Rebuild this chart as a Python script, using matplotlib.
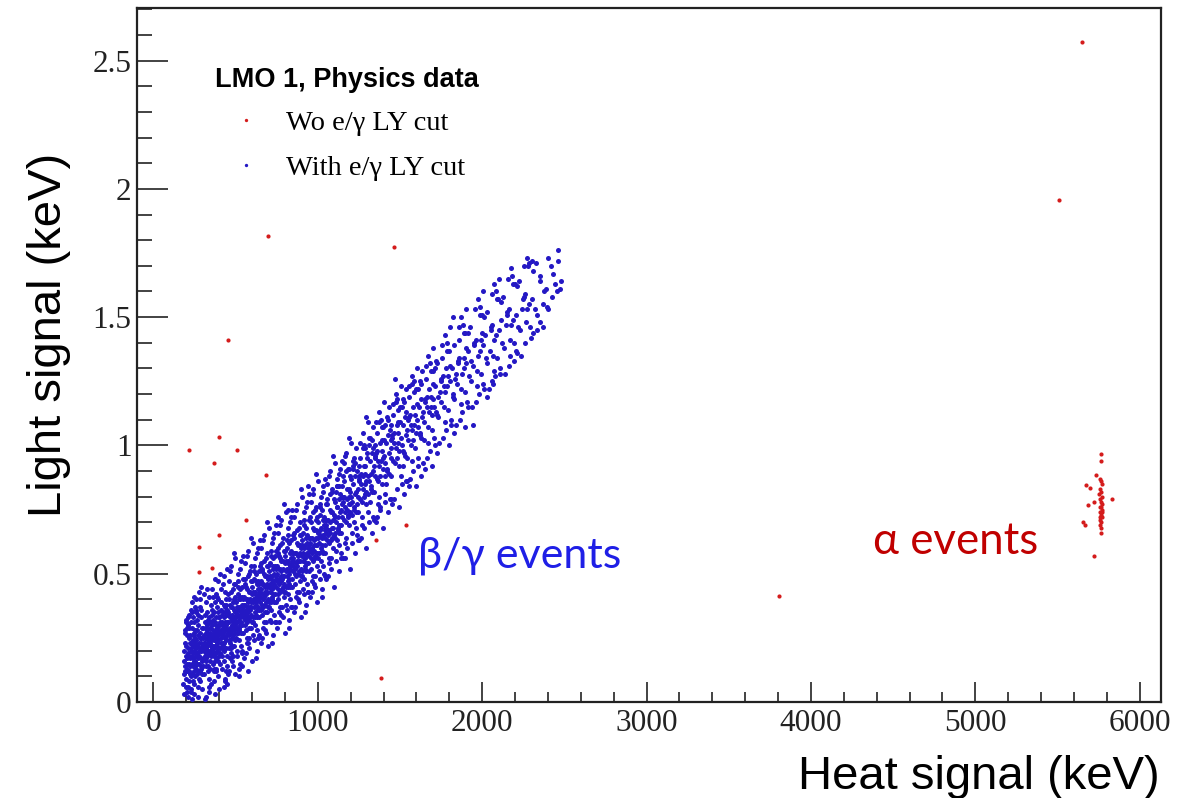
import numpy as np
import matplotlib
matplotlib.use("Agg")
import matplotlib.pyplot as plt
from matplotlib.lines import Line2D
from matplotlib.ticker import MultipleLocator, FuncFormatter

# beta/gamma band: events kept by the e/gamma light-yield cut (heat keV, light keV)
beta_gamma_events = [
    # 180 - 300 keV
    (184,.11),(231,.05),(267,.22),(205,.17),(292,.14),(213,.02),(248,.31),(189,.20),(276,.09),(222,.26),
    (259,.13),(197,.06),(284,.27),(239,.19),(208,.33),(271,.17),(226,.10),(195,.14),(299,.21),(243,.24),
    (216,.08),(262,.36),(187,.03),(253,.16),(233,.29),(281,.12),(201,.22),(274,.30),(219,.15),(246,.07),
    (290,.25),(210,.19),(237,.01),(265,.19),(193,.27),(228,.20),(287,.33),(256,.10),(203,.12),(241,.22),
    (279,.18),(214,.25),(269,.06),(186,.16),(251,.28),(296,.11),(224,.14),(261,.24),(199,.09),(235,.35),
    (283,.21),(211,.30),(244,.12),(272,.26),(191,.23),(257,.19),(229,.04),(294,.29),(206,.13),(266,.15),
    (238,.26),(218,.18),(277,.23),(250,.03),(198,.31),(289,.17),(232,.15),(263,.32),(212,.06),(247,.20),
    (285,.08),(221,.23),(255,.25),(182,.07),(270,.12),(236,.11),(204,.26),(292,.36),(242,.17),(226,.31),
    (278,.15),(196,.18),(258,.21),(216,.12),(287,.20),(252,.14),(230,.23),(268,.28),(209,.21),(282,.25),
    (240,.08),(223,.17),(297,.16),(261,.18),(194,.12),(245,.27),(275,.20),(234,.18),(202,.04),(264,.11),
    (217,.29),(254,.23),(288,.13),(227,.21),(249,.16),(273,.34),(207,.15),(238,.14),(291,.23),(220,.11),
    # 300 - 400 keV
    (304,.22),(356,.30),(331,.14),(387,.25),(312,.31),(369,.18),(342,.27),(398,.33),(321,.19),(375,.22),
    (308,.11),(351,.24),(393,.16),(327,.35),(362,.28),(339,.09),(384,.37),(316,.25),(371,.13),(347,.20),
    (302,.29),(390,.27),(334,.23),(358,.34),(323,.17),(379,.30),(310,.20),(366,.24),(344,.16),(396,.21),
    (329,.28),(353,.07),(381,.19),(318,.14),(373,.39),(337,.31),(359,.20),(306,.17),(389,.29),(348,.25),
    (325,.22),(367,.12),(394,.24),(314,.34),(341,.19),(377,.26),(332,.12),(386,.20),(355,.36),(320,.27),
    (364,.22),(303,.14),(399,.30),(345,.29),(328,.18),(372,.31),(313,.23),(383,.13),(350,.22),(336,.26),
    (392,.35),(322,.21),(361,.15),(307,.26),(376,.24),(340,.33),(397,.18),(330,.24),(368,.27),(317,.16),
    (385,.23),(352,.18),(326,.30),(363,.32),(309,.23),(380,.17),(343,.23),(391,.26),(335,.20),(357,.26),
    (319,.29),(370,.21),(338,.04),(395,.40),(311,.18),(378,.28),(346,.13),(324,.25),(365,.19),(388,.22),
    (333,.32),(354,.21),(315,.21),(374,.16),(349,.31),(301,.25),(382,.33),(360,.25),(328,.27),(366,.35),
    # 400 - 500 keV
    (404,.27),(452,.35),(431,.20),(487,.31),(412,.36),(469,.24),(443,.30),(498,.41),(421,.23),(475,.28),
    (408,.15),(451,.31),(493,.22),(427,.38),(462,.34),(439,.12),(484,.44),(416,.30),(471,.19),(447,.26),
    (402,.33),(490,.33),(434,.28),(458,.40),(423,.22),(479,.37),(410,.25),(466,.29),(444,.21),(496,.27),
    (429,.33),(453,.11),(481,.25),(418,.18),(473,.43),(437,.35),(459,.26),(406,.21),(489,.36),(448,.31),
    (425,.27),(467,.17),(494,.30),(414,.39),(441,.24),(477,.32),(432,.16),(486,.26),(455,.42),(420,.31),
    (464,.27),(403,.19),(499,.35),(445,.34),(428,.23),(472,.37),(413,.28),(483,.18),(450,.28),(436,.31),
    (492,.40),(422,.26),(461,.21),(407,.31),(476,.30),(440,.38),(497,.24),(430,.29),(468,.33),(417,.21),
    (485,.29),(457,.24),(426,.35),(463,.38),(409,.28),(480,.22),(442,.29),(491,.32),(435,.25),(456,.31),
    (419,.34),(470,.27),(438,.08),(495,.46),(411,.23),(478,.34),(446,.18),(424,.30),(465,.23),(488,.28),
    (433,.37),(454,.27),(415,.26),(474,.21),(449,.36),(401,.30),(482,.39),(430,.06),(377,.03),(450,.07),
    # 500 - 600 keV
    (504,.33),(553,.41),(531,.27),(587,.37),(512,.42),(569,.31),(542,.36),(598,.47),(521,.29),(575,.35),
    (508,.20),(551,.38),(593,.29),(527,.44),(562,.40),(539,.19),(584,.50),(516,.36),(571,.25),(547,.33),
    (502,.39),(590,.40),(534,.34),(558,.46),(523,.28),(579,.43),(510,.31),(566,.36),(544,.27),(596,.34),
    (529,.40),(553,.17),(581,.32),(518,.24),(573,.49),(537,.41),(559,.32),(506,.27),(589,.43),(548,.37),
    (525,.33),(567,.23),(594,.37),(514,.45),(541,.30),(577,.39),(532,.22),(586,.33),(555,.48),(520,.37),
    (564,.34),(503,.25),(599,.42),(545,.40),(528,.30),(572,.44),(513,.34),(583,.25),(550,.35),(536,.38),
    (592,.47),(522,.32),(561,.28),(507,.37),(576,.37),(540,.45),(597,.31),(530,.35),(568,.40),(517,.27),
    (585,.36),(557,.30),(526,.41),(563,.45),(509,.34),(580,.29),(543,.35),(591,.39),(535,.31),(556,.38),
    (519,.40),(570,.33),(538,.14),(595,.53),(511,.29),(578,.12),(520,.13),
    # 600 - 700 keV
    (604,.39),(652,.47),(631,.33),(687,.43),(612,.48),(669,.37),(643,.42),(698,.53),(621,.35),(675,.41),
    (608,.26),(651,.44),(693,.35),(627,.50),(662,.46),(639,.25),(684,.56),(616,.42),(671,.31),(647,.39),
    (602,.45),(690,.46),(634,.40),(658,.52),(623,.34),(679,.49),(610,.37),(666,.42),(644,.33),(696,.40),
    (629,.46),(653,.23),(681,.38),(618,.30),(673,.55),(637,.47),(659,.38),(606,.33),(689,.49),(648,.43),
    (625,.39),(667,.29),(694,.43),(614,.51),(641,.36),(677,.45),(632,.28),(686,.39),(655,.54),(620,.43),
    (664,.40),(603,.31),(699,.48),(645,.46),(628,.36),(672,.50),(613,.40),(683,.31),(650,.41),(636,.44),
    (692,.53),(622,.38),(661,.34),(607,.43),(676,.43),(640,.51),(697,.37),(630,.41),(668,.46),(617,.33),
    (685,.42),(657,.36),(626,.47),(663,.51),(609,.40),(680,.35),(642,.41),(691,.45),(635,.37),(656,.44),
    # 700 - 800 keV
    (704,.45),(752,.53),(731,.39),(787,.49),(712,.54),(769,.43),(743,.48),(798,.59),(721,.41),(775,.47),
    (708,.32),(751,.50),(793,.41),(727,.56),(762,.52),(739,.31),(784,.62),(716,.48),(771,.37),(747,.45),
    (702,.51),(790,.52),(734,.46),(758,.58),(723,.40),(779,.55),(710,.43),(766,.48),(744,.39),(796,.46),
    (729,.52),(753,.29),(781,.44),(718,.36),(773,.61),(737,.53),(759,.44),(706,.39),(789,.55),(748,.49),
    (725,.45),(767,.35),(794,.49),(714,.57),(741,.42),(777,.51),(732,.34),(786,.45),(755,.60),(720,.49),
    (764,.46),(703,.37),(799,.54),(745,.52),(728,.42),(772,.56),(713,.46),(783,.37),(750,.47),(736,.50),
    (792,.59),(722,.44),(761,.40),(707,.49),(776,.49),(740,.57),(797,.43),(730,.47),(768,.52),(717,.39),
    (785,.48),(757,.42),(726,.53),(763,.57),(709,.46),(760,.72),
    # 800 - 900 keV
    (804,.51),(852,.58),(831,.45),(887,.55),(812,.60),(869,.49),(843,.54),(898,.65),(821,.47),(875,.53),
    (808,.38),(851,.56),(893,.47),(827,.62),(862,.58),(839,.37),(884,.68),(816,.54),(871,.43),(847,.51),
    (802,.57),(890,.58),(834,.52),(858,.64),(823,.46),(879,.61),(810,.49),(866,.54),(844,.45),(896,.52),
    (829,.58),(853,.35),(881,.50),(818,.42),(873,.67),(837,.59),(859,.50),(806,.45),(889,.61),(848,.55),
    (825,.51),(867,.41),(894,.55),(814,.63),(841,.48),(877,.57),(832,.40),(886,.51),(855,.66),(820,.55),
    (864,.52),(803,.43),(899,.60),(845,.58),(828,.48),(872,.62),(813,.52),(883,.43),(850,.53),(836,.56),
    (892,.65),(822,.50),(861,.46),(807,.55),(876,.55),(840,.63),(897,.49),(830,.53),(868,.58),(817,.45),
    (820,.75),
    # 900 - 1000 keV
    (904,.57),(952,.64),(931,.51),(987,.61),(912,.66),(969,.55),(943,.60),(998,.72),(921,.53),(975,.59),
    (908,.44),(951,.62),(993,.53),(927,.68),(962,.64),(939,.43),(984,.75),(916,.60),(971,.49),(947,.57),
    (902,.63),(990,.64),(934,.58),(958,.70),(923,.52),(979,.67),(910,.55),(966,.60),(944,.51),(996,.58),
    (929,.64),(953,.41),(981,.56),(918,.48),(973,.74),(937,.65),(959,.56),(906,.51),(989,.67),(948,.61),
    (925,.57),(967,.47),(994,.61),(914,.69),(941,.54),(977,.63),(932,.46),(986,.57),(955,.72),(920,.61),
    (964,.58),(903,.49),(999,.66),(945,.64),(928,.54),(972,.68),(913,.58),(983,.49),(950,.59),(936,.62),
    (992,.71),(922,.56),(961,.52),(907,.61),(976,.61),(940,.84),
    # 1000 - 1100 keV
    (1004,.64),(1052,.71),(1031,.58),(1087,.68),(1012,.73),(1069,.62),(1043,.67),(1098,.79),(1021,.60),(1075,.66),
    (1008,.51),(1051,.69),(1093,.60),(1027,.75),(1062,.71),(1039,.50),(1084,.82),(1016,.67),(1071,.56),(1047,.64),
    (1002,.70),(1090,.71),(1034,.65),(1058,.77),(1023,.59),(1079,.74),(1010,.62),(1066,.67),(1044,.58),(1096,.65),
    (1029,.71),(1053,.48),(1081,.63),(1018,.55),(1073,.81),(1037,.72),(1059,.63),(1006,.58),(1089,.74),(1048,.68),
    (1025,.64),(1067,.54),(1094,.68),(1014,.76),(1041,.61),(1077,.70),(1032,.53),(1086,.64),(1055,.79),(1020,.68),
    (1064,.65),(1003,.56),(1099,.73),(1045,.71),(1028,.61),(1072,.75),(1013,.65),(1083,.56),(1050,.66),(1036,.69),
    # 1100 - 1200 keV
    (1104,.72),(1152,.80),(1131,.66),(1187,.77),(1112,.82),(1169,.70),(1143,.75),(1198,.88),(1121,.68),(1175,.75),
    (1108,.59),(1151,.78),(1193,.69),(1127,.84),(1162,.80),(1139,.58),(1184,.91),(1116,.76),(1171,.64),(1147,.72),
    (1102,.78),(1190,.80),(1134,.74),(1158,.86),(1123,.67),(1179,.83),(1110,.70),(1166,.76),(1144,.66),(1196,.74),
    (1129,.79),(1153,.56),(1181,.72),(1118,.63),(1173,.90),(1137,.81),(1159,.71),(1106,.66),(1189,.83),(1148,.77),
    (1125,.72),(1167,.62),(1194,.77),(1114,.84),(1141,.69),(1177,.79),(1132,.61),(1186,.73),(1155,.88),(1120,.76),
    (1164,.74),(1103,.64),(1199,.82),(1145,.80),(1128,.69),
    # 1200 - 1300 keV
    (1204,.80),(1252,.88),(1231,.74),(1287,.85),(1212,.91),(1269,.78),(1243,.83),(1298,.97),(1221,.76),(1275,.83),
    (1208,.66),(1251,.87),(1293,.77),(1227,.93),(1262,.89),(1239,.65),(1284,1.00),(1216,.85),(1271,.72),(1247,.80),
    (1202,.87),(1290,.89),(1234,.82),(1258,.95),(1223,.75),(1279,.92),(1210,.78),(1266,.85),(1244,.74),(1296,.82),
    (1229,.88),(1253,.63),(1281,.80),(1218,.70),(1273,.99),(1237,.90),(1259,.79),(1206,.73),(1289,.92),(1248,.86),
    (1225,.81),(1267,.69),(1294,.86),(1214,.94),(1241,.77),(1277,.88),(1232,.68),(1286,.81),
    # 1300 - 1400 keV
    (1304,.88),(1352,.97),(1331,.82),(1387,.94),(1312,1.00),(1369,.86),(1343,.92),(1398,1.07),(1321,.84),(1375,.92),
    (1308,.74),(1351,.96),(1393,.85),(1327,1.02),(1362,.98),(1339,.72),(1384,1.10),(1316,.94),(1371,.80),(1347,.88),
    (1302,.95),(1390,.98),(1334,.90),(1358,1.05),(1323,.83),(1379,1.01),(1310,.86),(1366,.94),(1344,.82),(1396,.91),
    (1329,.97),(1353,.70),(1381,.88),(1318,.78),(1373,1.09),(1337,.99),(1359,.87),(1306,.81),(1389,1.02),(1348,.95),
    (1325,.89),(1367,.77),(1394,.95),(1314,1.03),(1380,.75),
    # 1400 - 1500 keV
    (1404,.96),(1452,1.04),(1431,.89),(1487,1.01),(1412,1.08),(1469,.93),(1443,.99),(1498,1.15),(1421,.91),(1475,.99),
    (1408,.81),(1451,1.03),(1493,.92),(1427,1.10),(1462,1.05),(1439,.79),(1484,1.18),(1416,1.01),(1471,1.26),(1447,.95),
    (1402,1.02),(1490,1.05),(1434,.97),(1458,1.12),(1423,.90),(1479,1.08),(1410,.93),(1466,1.01),(1444,.88),(1496,.98),
    (1429,1.04),(1453,.77),(1481,.95),(1418,.85),(1473,1.17),(1437,1.06),(1459,.94),(1406,.88),(1489,1.09),(1448,1.02),
    # 1500 - 1600 keV
    (1504,1.03),(1552,1.11),(1531,.96),(1587,1.08),(1512,1.15),(1569,1.00),(1543,1.06),(1598,1.22),(1521,.98),(1575,1.06),
    (1508,.88),(1551,1.10),(1593,.99),(1527,1.17),(1562,1.12),(1539,.86),(1584,1.25),(1516,1.08),(1571,.94),(1547,1.02),
    (1502,1.09),(1590,1.12),(1534,1.04),(1558,1.19),(1523,.97),(1579,1.15),(1510,1.00),(1566,1.08),(1544,.95),(1596,1.05),
    (1529,1.11),(1553,.84),(1581,1.02),(1518,.92),(1573,1.24),(1537,1.13),
    # 1600 - 1700 keV
    (1604,1.10),(1652,1.18),(1631,1.03),(1687,1.15),(1612,1.22),(1669,1.07),(1643,1.13),(1698,1.29),(1621,1.05),(1675,1.13),
    (1608,.95),(1651,1.17),(1693,1.06),(1627,1.24),(1662,1.19),(1639,.93),(1684,1.32),(1616,1.15),(1671,1.01),(1647,1.09),
    (1602,1.16),(1690,1.19),(1634,1.11),(1658,1.26),(1623,1.04),(1679,1.22),(1610,1.07),(1666,1.15),(1644,1.02),(1696,1.12),
    (1629,1.18),(1653,.91),
    # 1700 - 1800 keV
    (1704,1.18),(1752,1.26),(1731,1.11),(1787,1.23),(1712,1.30),(1769,1.15),(1743,1.21),(1798,1.37),(1721,1.13),(1775,1.21),
    (1708,1.03),(1751,1.25),(1793,1.14),(1727,1.32),(1762,1.27),(1739,1.01),(1784,1.40),(1716,1.23),(1771,1.09),(1747,1.17),
    (1702,1.24),(1790,1.27),(1734,1.19),(1758,1.34),(1723,1.12),(1779,1.30),(1710,1.15),(1766,1.23),
    # 1800 - 1900 keV
    (1806,1.25),(1853,1.33),(1831,1.18),(1887,1.30),(1824,1.50),(1869,1.22),(1843,1.28),(1898,1.44),(1821,1.20),(1875,1.28),
    (1808,1.10),(1851,1.32),(1893,1.21),(1827,1.39),(1862,1.34),(1839,1.08),(1884,1.47),(1816,1.30),(1871,1.16),(1847,1.24),
    (1802,1.31),(1890,1.34),(1834,1.26),(1858,1.41),(1823,1.19),
    # 1900 - 2000 keV
    (1904,1.32),(1952,1.40),(1931,1.25),(1987,1.37),(1912,1.44),(1969,1.29),(1945,1.08),(1998,1.51),(1921,1.27),(1975,1.35),
    (1908,1.17),(1951,1.39),(1993,1.28),(1927,1.46),(1962,1.41),(1939,1.15),(1984,1.54),(1916,1.37),(1971,1.23),(1947,1.31),
    (1902,1.38),(1990,1.41),(1934,1.33),
    # 2000 - 2100 keV
    (2004,1.39),(2052,1.46),(2031,1.32),(2087,1.43),(2012,1.50),(2069,1.35),(2061,1.25),(2098,1.57),(2021,1.34),(2075,1.41),
    (2008,1.24),(2051,1.45),(2093,1.34),(2027,1.52),(2062,1.47),(2039,1.22),(2084,1.60),(2016,1.43),(2071,1.29),(2047,1.37),
    (2002,1.44),
    # 2100 - 2200 keV
    (2104,1.45),(2152,1.52),(2131,1.38),(2187,1.49),(2112,1.56),(2169,1.41),(2143,1.47),(2198,1.63),(2121,1.40),(2175,1.47),
    (2108,1.30),(2151,1.51),(2193,1.40),(2127,1.58),(2162,1.53),(2139,1.28),(2184,1.66),(2116,1.49),(2171,1.35),
    # 2200 - 2300 keV
    (2204,1.51),(2252,1.58),(2231,1.45),(2287,1.55),(2212,1.62),(2269,1.48),(2243,1.53),(2286,1.71),(2221,1.46),(2275,1.53),
    (2208,1.37),(2251,1.57),(2293,1.46),(2227,1.64),(2262,1.59),(2239,1.35),(2280,1.70),
    # 2300 - 2480 keV
    (2304,1.57),(2352,1.64),(2331,1.51),(2387,1.61),(2312,1.68),(2369,1.55),(2353,1.48),(2398,1.73),(2321,1.53),(2375,1.60),
    (2308,1.44),(2351,1.66),(2393,1.54),(2327,1.71),(2401,1.53),(2462,1.76),(2462,1.72),(2458,1.60),(2431,1.67),(2445,1.63),
    (2472,1.61),(2418,1.70),(2479,1.64),(2426,1.58),
]

# the wider edges of the same band
beta_gamma_edges = [
    (262,.40),(281,.37),(305,.42),(327,.44),(296,.05),(318,.02),(341,.41),(275,.43),(252,.37),(233,.39),
    (214,.34),(199,.32),(227,.36),(289,.45),(312,.01),(336,.06),(348,.38),(270,.02),(244,.41),(322,.39),
    (206,.29),(239,.33),(258,.35),(285,.40),(193,.28),
    (358,.44),(374,.48),(387,.41),(405,.50),(422,.46),(436,.43),(449,.52),(367,.08),(383,.12),(401,.05),
    (416,.13),(434,.09),(447,.14),(379,.42),(395,.47),(413,.44),(429,.49),(442,.40),(362,.41),(391,.10),
    (459,.47),(473,.53),(488,.46),(499,.56),(516,.50),(534,.55),(546,.48),(462,.12),(480,.16),(494,.11),
    (511,.18),(525,.15),(540,.20),(469,.51),(490,.58),(513,.47),(528,.52),(543,.57),(483,.14),(520,.10),
    (555,.54),(573,.59),(587,.51),(604,.62),(618,.56),(635,.60),(649,.53),(561,.19),(578,.23),(597,.16),
    (610,.24),(628,.20),(641,.26),(567,.57),(592,.64),(615,.53),(630,.58),(646,.63),(583,.21),(623,.17),
    (657,.60),(671,.65),(689,.58),(702,.68),(720,.62),(734,.66),(747,.59),(660,.25),(680,.28),(695,.22),
    (713,.31),(726,.26),(744,.31),(669,.63),(692,.70),(716,.59),(730,.64),(745,.69),(685,.27),(721,.23),
    (756,.66),(774,.71),(788,.64),(805,.74),(817,.68),(835,.72),(849,.65),(764,.31),(779,.34),(798,.27),
    (813,.36),(827,.32),(841,.37),(768,.69),(793,.77),(816,.65),(832,.70),(845,.75),(787,.33),(822,.29),
    (857,.72),(872,.77),(890,.70),(903,.80),(919,.74),(932,.78),(948,.71),(861,.37),(881,.40),(896,.33),
    (914,.42),(929,.38),(943,.43),(867,.75),(895,.83),(915,.71),(931,.76),(946,.81),(885,.39),(925,.35),
    (956,.78),(974,.83),(989,.76),(1003,.86),(1020,.80),(1033,.84),(1049,.77),(964,.43),(978,.46),(997,.39),
    (1012,.48),(1026,.44),(1042,.49),(968,.81),(992,.89),(1016,.77),(1030,.82),(1047,.87),(984,.45),(1023,.41),
    (1057,.85),(1072,.90),(1088,.83),(1104,.93),(1119,.87),(1134,.91),(1148,.84),(1063,.49),(1080,.52),(1096,.45),
    (1111,.55),(1127,.51),(1143,.56),(1067,.88),(1093,.96),(1115,.84),(1131,.89),(1146,.94),
    (1157,.93),(1173,.97),(1188,.91),(1204,1.01),(1219,.95),(1234,.99),(1248,.92),(1163,.56),(1180,.60),(1196,.52),
    (1211,.62),(1227,.58),(1243,.63),(1167,.96),(1193,1.03),(1215,.92),
    (1257,1.01),(1273,1.05),(1288,.99),(1304,1.09),(1319,1.03),(1334,1.07),(1348,1.00),(1263,.64),(1280,.68),(1296,.60),
    (1311,.70),(1327,.66),(1343,.71),(1293,1.11),
    (1357,1.09),(1373,1.13),(1388,1.07),(1404,1.17),(1419,1.11),(1434,1.15),(1448,1.08),(1363,.72),(1380,.76),(1396,.68),
    (1411,.78),(1427,.74),(1443,.79),
    (1457,1.16),(1473,1.20),(1488,1.14),(1504,1.23),(1519,1.18),(1534,1.22),(1463,.79),(1480,.83),(1496,.76),(1511,.85),
    (1527,.81),(1543,.86),
    (1557,1.23),(1573,1.27),(1588,1.21),(1604,1.30),(1619,1.25),(1634,1.29),(1563,.87),(1580,.90),(1596,.84),(1611,.92),
    (1627,.88),
    (1657,1.31),(1673,1.35),(1688,1.29),(1704,1.38),(1719,1.33),(1663,.95),(1680,.98),(1696,.92),(1711,1.00),(1727,.97),
    (1757,1.39),(1773,1.43),(1788,1.37),(1804,1.46),(1763,1.03),(1780,1.06),(1796,1.00),(1811,1.08),(1827,1.05),
    (1857,1.46),(1873,1.50),(1888,1.44),(1904,1.53),(1863,1.10),(1880,1.13),(1896,1.07),(1911,1.15),
    (1957,1.53),(1973,1.57),(1988,1.51),(2004,1.60),(1963,1.17),(1980,1.20),(2011,1.22),(2027,1.19),
    (2057,1.59),(2073,1.63),(2088,1.57),(2104,1.65),(2063,1.24),(2080,1.27),(2111,1.28),
    (2157,1.65),(2173,1.69),(2188,1.63),(2163,1.31),(2196,1.33),(2211,1.36),
    (2257,1.70),(2273,1.73),(2304,1.72),(2263,1.40),(2296,1.42),(2332,1.45),(2371,1.46),
]

# events outside the e/gamma band (no LY cut applied)
stray_events = [
    (5647, 2.574), (5508, 1.955), (699, 1.818), (1465, 1.772), (456, 1.41), (219, 0.981),
    (401, 1.032), (511, 0.981), (371, 0.931), (687, 0.884), (565, 0.709), (401, 0.650),
    (280, 0.604), (280, 0.506), (359, 0.522), (1538, 0.689), (1356, 0.631), (1386, 0.093),
    (3805, 0.413),
]

# alpha population near 5.7 MeV
alpha_events = [
    (5763, 0.966), (5763, 0.938), (5733, 0.884), (5672, 0.845), (5696, 0.833), (5684, 0.767),
    (5720, 0.779), (5830, 0.790), (5654, 0.701), (5666, 0.689), (5763, 0.658), (5720, 0.569),
    (5760, 0.87), (5768, 0.85), (5757, 0.83), (5765, 0.82), (5770, 0.80), (5759, 0.79),
    (5766, 0.78), (5762, 0.76), (5771, 0.75), (5756, 0.74), (5764, 0.73), (5769, 0.72),
    (5758, 0.71), (5767, 0.70), (5761, 0.69), (5772, 0.77), (5755, 0.81), (5763, 0.68),
    (5768, 0.74), (5760, 0.76), (5765, 0.86), (5757, 0.72),
]

RED = "#d41c1c"
BLUE = "#2418c4"

bg = np.array(beta_gamma_events + beta_gamma_edges).T
red = np.array(stray_events + alpha_events).T

fig = plt.figure(figsize=(11.92, 7.98), dpi=100)
ax = fig.add_axes([0.1149, 0.1203, 0.8591, 0.8697])

ax.scatter(red[0], red[1], s=9, color=RED, linewidths=0, zorder=2)
ax.scatter(bg[0], bg[1], s=13, color=BLUE, linewidths=0, zorder=3)

ax.set_xlim(-100, 6130)
ax.set_ylim(0, 2.705)

ax.xaxis.set_major_locator(MultipleLocator(1000))
ax.xaxis.set_minor_locator(MultipleLocator(200))
ax.yaxis.set_major_locator(MultipleLocator(0.5))
ax.yaxis.set_minor_locator(MultipleLocator(0.1))
ax.yaxis.set_major_formatter(FuncFormatter(lambda v, p: f"{v:g}"))

ax.tick_params(axis="both", which="both", direction="in", top=False, right=False,
               width=1.2, color="#222222", labelcolor="#222222")
ax.tick_params(axis="x", which="major", length=14.5, pad=5)
ax.tick_params(axis="x", which="minor", length=7.2)
ax.tick_params(axis="y", which="major", length=22, pad=4)
ax.tick_params(axis="y", which="minor", length=11)
for lab in ax.get_xticklabels() + ax.get_yticklabels():
    lab.set_fontfamily("Liberation Serif")
    lab.set_fontsize(22.5)

for sp in ax.spines.values():
    sp.set_linewidth(1.6)
    sp.set_color("#222222")

fig.text(0.041, 0.58, "Light signal (keV)", rotation=90, ha="center", va="center",
         fontsize=34, family="Liberation Sans")
fig.text(0.973, 0.011, "Heat signal (keV)", ha="right", va="baseline",
         fontsize=34, family="Liberation Sans")

ax.text(1611, 0.526, "β/γ events", color="#1f1fe6", fontsize=31, family="Lato")
ax.text(4377, 0.576, "α events", color="#c00000", fontsize=31.5, family="Lato")

handles = [
    Line2D([], [], ls="none", marker="o", markersize=2.4, markeredgewidth=0, color=RED),
    Line2D([], [], ls="none", marker="o", markersize=2.4, markeredgewidth=0, color=BLUE),
]
leg = ax.legend(handles, ["Wo e/γ LY cut", "With e/γ LY cut"],
                loc="upper left", bbox_to_anchor=(215 / 1192, 1 - 67 / 798),
                bbox_transform=fig.transFigure, frameon=False, borderpad=0,
                borderaxespad=0, numpoints=1, handlelength=2.2, handletextpad=0.28,
                labelspacing=0.7, alignment="left",
                title="LMO 1, Physics data",
                title_fontproperties={"family": "Liberation Sans", "weight": "bold", "size": 19.5},
                prop={"family": "Liberation Serif", "size": 20.5})
leg._legend_box.sep = 12

fig.savefig("out.png", dpi=100)
